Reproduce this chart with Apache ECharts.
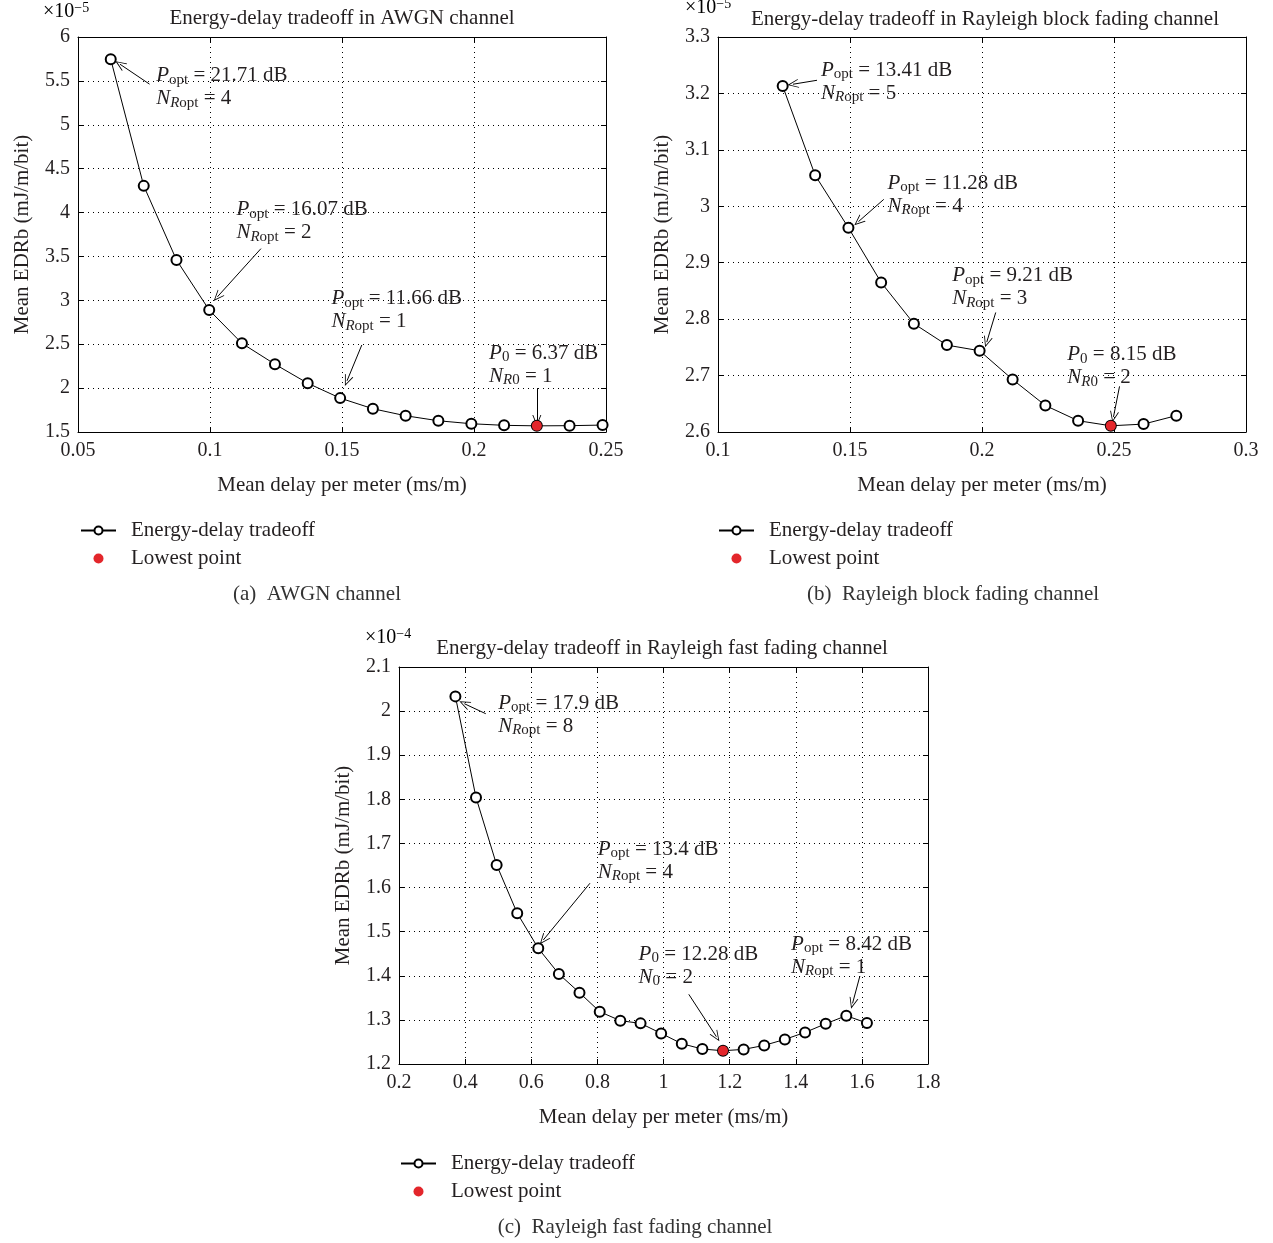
<!DOCTYPE html>
<html>
<head>
<meta charset="utf-8">
<script src="https://cdn.jsdelivr.net/npm/echarts@6/dist/echarts.min.js"></script>
<style>
html, body { margin: 0; padding: 0; background: #fff; }
#main { width: 1273px; height: 1243px; }
</style>
</head>
<body>
<div id="main"></div>
<script>
// values (EDRb shown in units of the axis multiplier)
const delayA = [0.0624, 0.0749, 0.0873, 0.0997, 0.1121, 0.1246, 0.137, 0.1493, 0.1617, 0.1741, 0.1865, 0.199, 0.2114, 0.2238, 0.2362, 0.2487];
const edrbA = [5.746, 4.304, 3.46, 2.889, 2.51, 2.272, 2.056, 1.886, 1.765, 1.685, 1.628, 1.594, 1.576, 1.570, 1.572, 1.579];

const delayB = [0.1245, 0.1368, 0.1494, 0.1618, 0.1742, 0.1867, 0.1991, 0.2116, 0.224, 0.2364, 0.2488, 0.2612, 0.2736];
const edrbB = [3.213, 3.055, 2.962, 2.865, 2.792, 2.754, 2.744, 2.693, 2.647, 2.620, 2.611, 2.614, 2.629];

const delayC = [0.3706, 0.4329, 0.4953, 0.5576, 0.6212, 0.6835, 0.7459, 0.8071, 0.8694, 0.9306, 0.9929, 1.0553, 1.1176, 1.18, 1.2424, 1.3047, 1.367, 1.4282, 1.4906, 1.5529, 1.6153];
const edrbC = [2.0334, 1.8042, 1.6514, 1.5418, 1.4623, 1.4041, 1.3617, 1.3186, 1.2982, 1.2921, 1.2694, 1.246, 1.2339, 1.2301, 1.2331, 1.2422, 1.2558, 1.2716, 1.2913, 1.3095, 1.2929];

const titles = [
    "Energy-delay tradeoff in AWGN channel",
    "Energy-delay tradeoff in Rayleigh block fading channel",
    "Energy-delay tradeoff in Rayleigh fast fading channel"
];
const captions = ["(a)  AWGN channel", "(b)  Rayleigh block fading channel", "(c)  Rayleigh fast fading channel"];
const exponents = ["\u22125", "\u22125", "\u22124"];
const seriesNames = ["Energy-delay tradeoff", "Lowest point"];

// annotation texts (rich markup)
const notesA = [
    "{i|P}{s|opt}{n| = 21.71 dB}\n{i|N}{si|R}{s|opt}{n| = 4}",
    "{i|P}{s|opt}{n| = 16.07 dB}\n{i|N}{si|R}{s|opt}{n| = 2}",
    "{i|P}{s|opt}{n| = 11.66 dB}\n{i|N}{si|R}{s|opt}{n| = 1}",
    "{i|P}{s|0}{n| = 6.37 dB}\n{i|N}{si|R}{s|0}{n| = 1}"
];
const notesB = [
    "{i|P}{s|opt}{n| = 13.41 dB}\n{i|N}{si|R}{s|opt}{n| = 5}",
    "{i|P}{s|opt}{n| = 11.28 dB}\n{i|N}{si|R}{s|opt}{n| = 4}",
    "{i|P}{s|opt}{n| = 9.21 dB}\n{i|N}{si|R}{s|opt}{n| = 3}",
    "{i|P}{s|0}{n| = 8.15 dB}\n{i|N}{si|R}{s|0}{n| = 2}"
];
const notesC = [
    "{i|P}{s|opt}{n| = 17.9 dB}\n{i|N}{si|R}{s|opt}{n| = 8}",
    "{i|P}{s|opt}{n| = 13.4 dB}\n{i|N}{si|R}{s|opt}{n| = 4}",
    "{i|P}{s|0}{n| = 12.28 dB}\n{i|N}{s|0}{n| = 2}",
    "{i|P}{s|opt}{n| = 8.42 dB}\n{i|N}{si|R}{s|opt}{n| = 1}"
];

// where the annotation text starts, and arrows (tail -> head), in data units
const noteAt = [
    [[0.0796, 5.425], [0.110, 3.903], [0.146, 2.889], [0.2057, 2.264]],
    [[0.139, 3.221], [0.1642, 3.0205], [0.1887, 2.8566], [0.2323, 2.7163]],
    [[0.50, 1.9918], [0.8012, 1.6605], [0.9247, 1.423], [1.3859, 1.445]]
];
const arrows = [
    [[[0.0771, 5.463], [0.0659, 5.69]], [[0.1193, 3.589], [0.1028, 3.04]], [[0.1575, 2.491], [0.1519, 2.083]], [[0.2238, 2.0], [0.2238, 1.632]]],
    [[[0.1375, 3.2233], [0.1284, 3.2163]], [[0.1628, 3.0123], [0.1532, 2.9728]], [[0.2052, 2.8118], [0.2018, 2.7593]], [[0.2521, 2.6809], [0.2498, 2.6267]]],
    [[[0.4624, 1.9941], [0.3976, 2.0168]], [[0.7776, 1.6098], [0.6365, 1.4812]], [[1.0765, 1.358], [1.16, 1.2619]], [[1.594, 1.3995], [1.5718, 1.3375]]]
];

const FONT = '"Liberation Serif", "DejaVu Serif", serif';
const INK = "#231f20";
const FS = 21;

const panels = [
    { x: delayA, y: edrbA, notes: notesA, grid: { left: 78, top: 37, width: 528, height: 395 },
      xr: [0.05, 0.25, 0.05], yr: [1.5, 6, 0.5], title: [342, 18], exp: [43, 12], cap: [317, 594], legend: [80, 520] },
    { x: delayB, y: edrbB, notes: notesB, grid: { left: 718, top: 37, width: 528, height: 395 },
      xr: [0.1, 0.3, 0.05], yr: [2.6, 3.3, 0.1], title: [985, 19], exp: [685, 8], cap: [953, 594], legend: [718, 520] },
    { x: delayC, y: edrbC, notes: notesC, grid: { left: 399, top: 667, width: 529, height: 397 },
      xr: [0.2, 1.8, 0.2], yr: [1.2, 2.1, 0.1], title: [662, 648], exp: [365, 638], cap: [635, 1227], legend: [400, 1153] }
];

const arrowHead = "path://M5,0 L10,11 L9,11 L5,2.2 L1,11 L0,11 Z";
const noteRich = {
    i: { fontFamily: FONT, fontSize: FS, fontStyle: "italic", color: INK, lineHeight: 23 },
    n: { fontFamily: FONT, fontSize: FS, color: INK, lineHeight: 23 },
    s: { fontFamily: FONT, fontSize: 15, color: INK, lineHeight: 12, verticalAlign: "bottom" },
    si: { fontFamily: FONT, fontSize: 15, fontStyle: "italic", color: INK, lineHeight: 12, verticalAlign: "bottom" }
};

const xAxis = [], yAxis = [], series = [], graphic = [], legend = [];
const axisLine = { show: true, onZero: false, lineStyle: { color: "#000", width: 1 } };
const axisTick = { show: true, inside: true, length: 5, lineStyle: { color: "#000" } };

panels.forEach(function (p, i) {
    const tickStyle = { fontFamily: FONT, fontSize: 20, color: INK };
    const nameStyle = { fontFamily: FONT, fontSize: FS, color: INK };
    xAxis[i] = {
        type: "value", gridIndex: i, min: p.xr[0], max: p.xr[1], interval: p.xr[2],
        axisLine: axisLine, axisTick: axisTick,
        axisLabel: Object.assign({ margin: 9 }, tickStyle),
        splitLine: { show: true, lineStyle: { color: "#000", width: 1, type: [1, 4] } },
        name: "Mean delay per meter (ms/m)", nameLocation: "middle", nameGap: 43,
        nameTextStyle: nameStyle
    };
    xAxis[i + 3] = {
        type: "value", gridIndex: i, position: "top", min: p.xr[0], max: p.xr[1], interval: p.xr[2],
        axisLine: axisLine, axisTick: axisTick, axisLabel: { show: false }, splitLine: { show: false }
    };
    yAxis[i] = {
        type: "value", gridIndex: i, min: p.yr[0], max: p.yr[1], interval: p.yr[2],
        axisLine: axisLine, axisTick: axisTick,
        axisLabel: Object.assign({ margin: 8 }, tickStyle),
        splitLine: { show: true, lineStyle: { color: "#000", width: 1, type: [1, 4] } },
        name: "Mean EDRb (mJ/m/bit)", nameLocation: "middle", nameGap: 45,
        nameTextStyle: nameStyle
    };
    yAxis[i + 3] = {
        type: "value", gridIndex: i, position: "right", min: p.yr[0], max: p.yr[1], interval: p.yr[2],
        axisLine: axisLine, axisTick: axisTick, axisLabel: { show: false }, splitLine: { show: false }
    };

    const pts = p.x.map(function (v, k) { return [v, p.y[k]]; });
    let low = 0;
    p.y.forEach(function (v, k) { if (v < p.y[low]) low = k; });

    series.push({
        name: seriesNames[0], type: "line", xAxisIndex: i, yAxisIndex: i,
        data: pts, symbol: "emptyCircle", symbolSize: 10,
        lineStyle: { color: "#000", width: 1 },
        itemStyle: { color: "#000", borderWidth: 1 },
        markLine: {
            silent: true, symbol: ["none", arrowHead], symbolSize: [9, 11],
            lineStyle: { color: "#000", width: 1, type: "solid" },
            label: { show: false },
            data: arrows[i].map(function (a) { return [{ coord: a[0] }, { coord: a[1] }]; })
        },
        markPoint: {
            silent: true, symbol: "circle", symbolSize: 0,
            label: { show: true, position: "right", distance: 0, rich: noteRich },
            data: p.notes.map(function (t, k) {
                return { coord: noteAt[i][k], label: { formatter: t } };
            })
        }
    });
    series.push({
        name: seriesNames[1], type: "scatter", xAxisIndex: i, yAxisIndex: i, z: 5,
        data: [pts[low]], symbol: "circle", symbolSize: 10,
        itemStyle: { color: "#e3262b", opacity: 1 }
    });

    legend.push({
        left: p.legend[0], top: p.legend[1], orient: "vertical", padding: 0,
        data: seriesNames, selectedMode: false,
        itemWidth: 35, itemHeight: 10, itemGap: 7,
        textStyle: { fontFamily: FONT, fontSize: FS, color: INK, lineHeight: 20, padding: [0, 0, 0, 10] }
    });

    graphic.push({
        type: "text", x: p.title[0], y: p.title[1],
        style: { text: titles[i], font: FS + "px " + FONT, fill: INK, align: "center", verticalAlign: "middle" }
    });
    graphic.push({
        type: "text", x: p.exp[0], y: p.exp[1],
        style: {
            text: "{a|\u00d710}{b|" + exponents[i] + "}", verticalAlign: "middle",
            rich: {
                a: { fontFamily: FONT, fontSize: 20, color: INK, lineHeight: 22 },
                b: { fontFamily: FONT, fontSize: 14, color: INK, lineHeight: 12, verticalAlign: "top" }
            }
        }
    });
    graphic.push({
        type: "text", x: p.cap[0], y: p.cap[1],
        style: { text: captions[i], font: FS + "px " + FONT, fill: "#333", align: "center", verticalAlign: "middle" }
    });
});

const chart = echarts.init(document.getElementById("main"), null, { renderer: "canvas" });
chart.setOption({
    backgroundColor: "#fff",
    animation: false,
    grid: panels.map(function (p) { return Object.assign({ containLabel: false }, p.grid); }),
    xAxis: xAxis,
    yAxis: yAxis,
    legend: legend,
    series: series,
    graphic: graphic
});
</script>
</body>
</html>
